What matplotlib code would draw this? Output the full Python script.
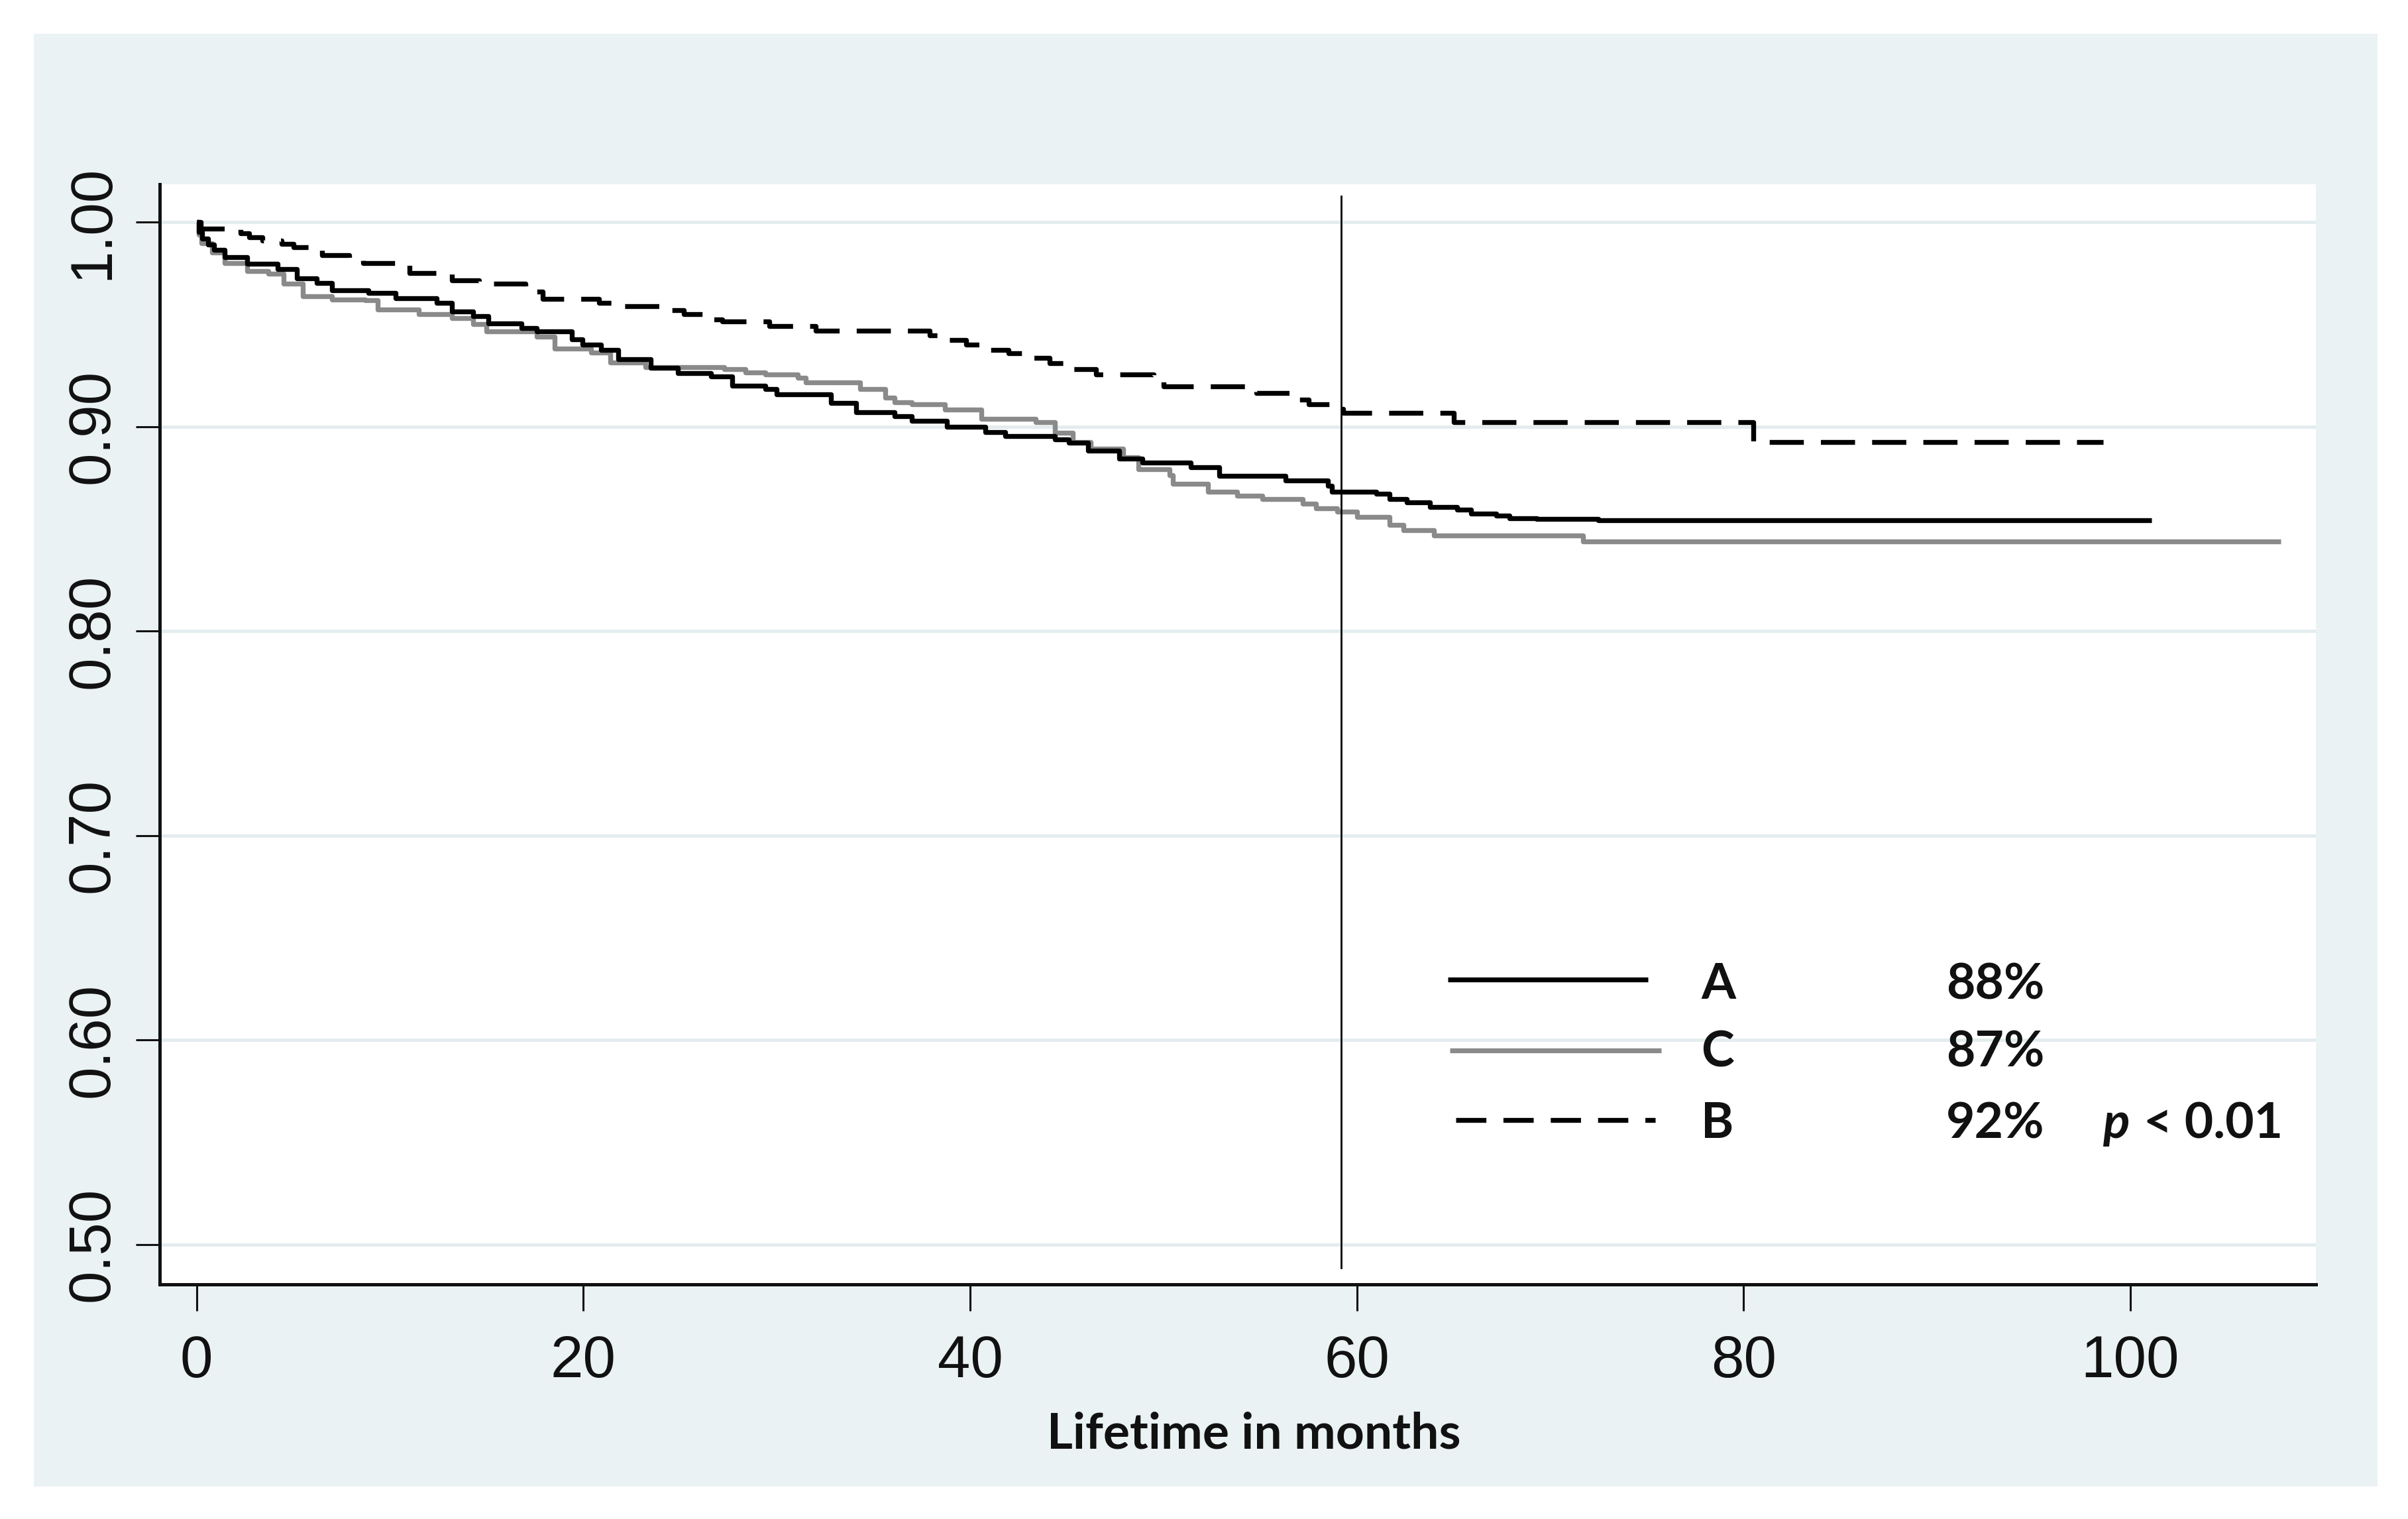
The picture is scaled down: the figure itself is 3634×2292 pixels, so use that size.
import matplotlib
matplotlib.use("Agg")
import matplotlib.pyplot as plt
from matplotlib.patches import Rectangle

# ---------------- data ----------------
a_time = [0, 0.1, 0.3, 0.6, 0.9, 1.45, 2.6, 4.2, 5.2, 6.2, 7.0, 8.9, 10.3, 12.4, 13.2,
          14.3, 15.1, 16.8, 17.6, 19.4, 19.95, 20.9, 21.8, 23.5, 24.9, 26.6, 27.7, 29.4,
          30.0, 32.8, 34.1, 36.1, 37.0, 38.8, 40.8, 41.8, 44.4, 45.1, 46.1, 47.7, 48.9,
          51.4, 52.9, 56.3, 58.5, 58.7, 61.0, 61.7, 62.6, 63.8, 65.2, 65.9, 67.2, 67.9,
          69.3, 72.5, 101.1]
a_surv = [1.000, 0.995, 0.992, 0.989, 0.9865, 0.983, 0.9795, 0.977, 0.9724, 0.9703, 0.9665,
          0.9654, 0.9627, 0.9606, 0.9562, 0.954, 0.9504, 0.948, 0.9465, 0.9427, 0.940,
          0.9374, 0.933, 0.9287, 0.926, 0.9245, 0.920, 0.9184, 0.9157, 0.9115, 0.907,
          0.905, 0.9027, 0.900, 0.8973, 0.8953, 0.8937, 0.892, 0.8882, 0.8844, 0.8823,
          0.880, 0.8758, 0.8736, 0.871, 0.8682, 0.8671, 0.8645, 0.863, 0.8606, 0.8595,
          0.8574, 0.8563, 0.8552, 0.8547, 0.8541, 0.8541]

c_time = [0, 0.1, 0.26, 0.8, 1.45, 2.6, 3.7, 4.5, 5.5, 7.0, 8.7, 9.35, 11.5, 13.2, 14.3,
          15.0, 17.6, 18.5, 20.4, 21.4, 23.2, 27.3, 28.4, 29.4, 31.1, 31.5, 34.3, 35.6,
          36.1, 37.0, 38.7, 40.6, 43.4, 44.4, 45.3, 46.25, 47.9, 48.7, 50.3, 50.5, 52.3,
          53.8, 55.1, 57.2, 57.9, 59.0, 60.0, 61.7, 62.4, 64.0, 71.7, 107.8]
c_surv = [1.000, 0.994, 0.9897, 0.985, 0.980, 0.976, 0.9747, 0.970, 0.9638, 0.9622, 0.9617,
          0.9573, 0.955, 0.953, 0.950, 0.9465, 0.944, 0.938, 0.9362, 0.9314, 0.929, 0.928,
          0.9265, 0.9254, 0.9238, 0.9217, 0.9184, 0.914, 0.912, 0.9109, 0.9082, 0.9038,
          0.9022, 0.897, 0.8925, 0.8892, 0.8849, 0.879, 0.8763, 0.872, 0.8682, 0.866,
          0.8644, 0.8622, 0.860, 0.8585, 0.8557, 0.852, 0.8493, 0.8466, 0.8439, 0.8439]

b_time = [0, 0.2, 2.27, 2.7, 3.4, 4.4, 5.0, 6.5, 7.9, 8.6, 11.0, 13.2, 14.6, 17.0, 17.9,
          20.8, 21.7, 24.2, 25.2, 26.3, 27.2, 29.6, 32.0, 37.9, 38.6, 39.8, 40.5, 42.0,
          43.0, 44.1, 45.2, 46.5, 49.5, 50.0, 54.8, 56.8, 57.5, 58.7, 59.3, 65.0, 80.5, 98.6]
b_surv = [1.000, 0.9968, 0.9946, 0.9925, 0.991, 0.9893, 0.9877, 0.9838, 0.9822, 0.980,
          0.9751, 0.9714, 0.970, 0.966, 0.9625, 0.9605, 0.9588, 0.957, 0.955, 0.9525,
          0.9514, 0.949, 0.947, 0.9445, 0.9423, 0.940, 0.9375, 0.9358, 0.9335, 0.931,
          0.928, 0.9254, 0.9225, 0.9196, 0.9163, 0.913, 0.911, 0.9085, 0.9066, 0.902,
          0.8925, 0.8925]

groups = ["A", "C", "B"]
percents = ["88%", "87%", "92%"]
p_text = "< 0.01"
ref_month = 59.2
x_ticks = [0, 20, 40, 60, 80, 100]
y_ticks = [0.50, 0.60, 0.70, 0.80, 0.90, 1.00]
y_ticklabels = ["0.50", "0.60", "0.70", "0.80", "0.90", "1.00"]
x_label = "Lifetime in months"

# ---------------- figure ----------------
W, H, DPI = 3634, 2292, 100
fig = plt.figure(figsize=(W / DPI, H / DPI), dpi=DPI, facecolor="white")
BG = "#EAF2F3"
bg = Rectangle((51 / W, 1 - 2243 / H), (3588 - 51) / W, (2243 - 51) / H,
               transform=fig.transFigure, facecolor=BG, edgecolor="none", zorder=-10)
fig.add_artist(bg)

L, R, T, B = 241, 3495, 278, 1938
ax = fig.add_axes([L / W, 1 - B / H, (R - L) / W, (B - T) / H])
ax.set_zorder(1)
ax.set_facecolor("white")
ax.set_xlim(-1.91, 109.6)
ax.set_ylim(0.4804, 1.0185)

for s in ["top", "right"]:
    ax.spines[s].set_visible(False)
for s in ["left", "bottom"]:
    ax.spines[s].set_linewidth(3.6)
    ax.spines[s].set_color("#111111")

ax.set_yticks(y_ticks)
ax.set_yticklabels(y_ticklabels)
ax.set_xticks(x_ticks)
ax.tick_params(axis="both", direction="out", width=2.2, color="#111111",
               labelsize=64, labelcolor="#111111")
ax.tick_params(axis="x", pad=25, length=29)
ax.tick_params(axis="y", pad=16, length=26)
for lab in ax.get_yticklabels():
    lab.set_rotation(90)
    lab.set_va("center")
    lab.set_ha("right")
for lab in ax.get_xticklabels() + ax.get_yticklabels():
    lab.set_fontfamily("Liberation Sans")

for yv in y_ticks:
    ax.axhline(yv, color="#E3ECEE", lw=3.6, zorder=0.5)

LW = 5.3
ax.plot(a_time, a_surv, drawstyle="steps-post", color="black", lw=LW,
        solid_capstyle="butt", zorder=3)
ax.plot(c_time, c_surv, drawstyle="steps-post", color="#8a8a8a", lw=LW,
        solid_capstyle="butt", zorder=2)
ax.plot(b_time, b_surv, drawstyle="steps-post", color="black", lw=LW,
        linestyle=(0, (7, 3.5)), dash_capstyle="butt", zorder=3)

ax.plot([ref_month, ref_month], [0.4885, 1.0126], color="black", lw=2.0, zorder=4)

# ---------------- legend (manual, inside axes) ----------------
def axx(px):
    return (px - L) / (R - L)

def axy(py):
    return (B - py) / (B - T)

tr = ax.transAxes
ax.plot([axx(2185), axx(2487)], [axy(1478)] * 2, transform=tr, color="black", lw=LW,
        solid_capstyle="butt", clip_on=False)
ax.plot([axx(2188), axx(2507)], [axy(1585)] * 2, transform=tr, color="#8a8a8a", lw=LW,
        solid_capstyle="butt", clip_on=False)
ax.plot([axx(2197), axx(2498)], [axy(1690)] * 2, transform=tr, color="black", lw=LW,
        linestyle=(0, (6.2, 3.5)), dash_capstyle="butt", clip_on=False)

FS = 54
font = dict(fontfamily="Lato", fontweight="bold", fontsize=FS, color="#111111",
            transform=tr, va="baseline")
for g, pc, by in zip(groups, percents, [1507, 1610, 1717]):
    ax.text(axx(2567), axy(by), g, ha="left", **font)
    ax.text(axx(2937), axy(by), pc, ha="left", **font)
ax.text(axx(3173), axy(1717), "p", ha="left", fontstyle="italic", **font)
ax.text(axx(3235), axy(1717), p_text, ha="left", **font)

fig.text(1892 / W, 1 - 2186 / H, x_label, ha="center", va="baseline",
         fontfamily="Lato", fontweight="bold", fontsize=FS, color="#111111")

fig.savefig("out.png", dpi=DPI, facecolor="white")
